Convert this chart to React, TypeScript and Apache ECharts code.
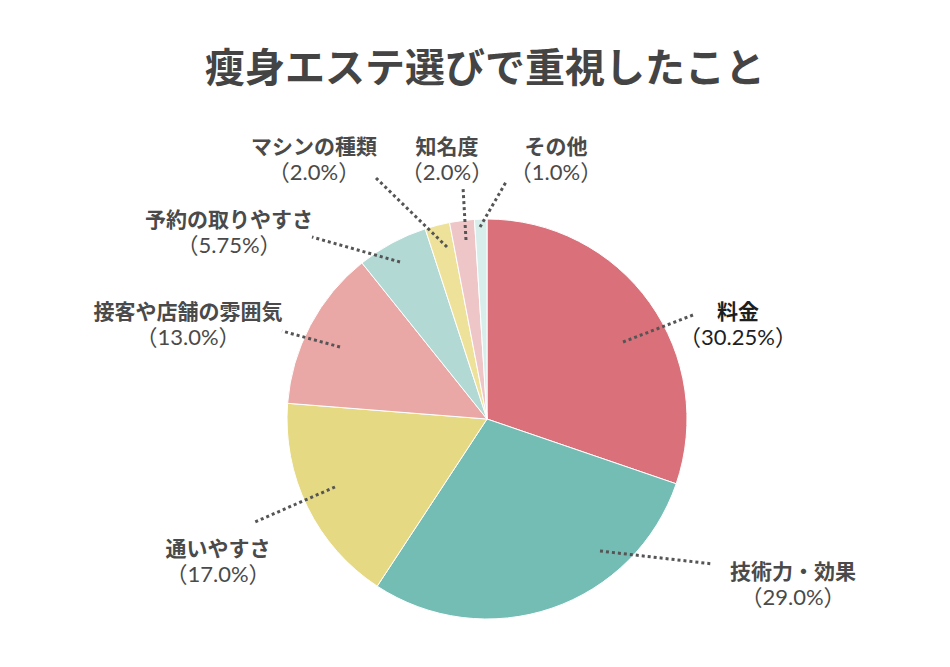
import React, { useEffect, useRef } from "react";
import * as echarts from "echarts";

const titleText = "瘦身エステ選びで重視したこと";
const categories = [
  "料金",
  "技術力・効果",
  "通いやすさ",
  "接客や店舗の雰囲気",
  "予約の取りやすさ",
  "マシンの種類",
  "知名度",
  "その他",
];
const values = [30.25, 29.0, 17.0, 13.0, 5.75, 2.0, 2.0, 1.0];
const percentLabels = ["30.25%", "29.0%", "17.0%", "13.0%", "5.75%", "2.0%", "2.0%", "1.0%"];
const colors = ["#DA717A", "#74BDB5", "#E6D983", "#E9A7A6", "#B3D9D5", "#EEE29A", "#EFC6C8", "#D8EEEB"];

// label layout: [labelCenterX, labelCenterY, lineStartX, lineStartY, lineEndX, lineEndY]
const labelLayouts = [
  [738, 321, 623, 342, 693, 315],
  [793, 581, 600, 551, 713, 564],
  [218, 558, 335, 487, 255, 522],
  [188, 321, 340, 347, 282, 331],
  [229, 229, 400, 262, 312, 237],
  [314, 156, 447, 247, 375, 177],
  [447, 156, 466, 240, 463, 187],
  [556, 156, 480, 227, 506, 182],
];

export default function App() {
  const ref = useRef<HTMLDivElement>(null);
  useEffect(() => {
    if (!ref.current) return;
    const chart = echarts.init(ref.current, null, { renderer: "svg" });
    const sliceData = categories.map((name, i) => ({
      name,
      value: values[i],
      itemStyle: { color: colors[i] },
    }));
    const labelData = categories.map((name, i) => ({
      name,
      value: values[i],
      itemStyle: { color: "rgba(0,0,0,0)", borderWidth: 0 },
      label: {
        formatter: `{n|${name}}\n{p|（${percentLabels[i]}）}`,
        rich: {
          n: {
            fontSize: 21,
            fontWeight: "bold",
            color: i === 0 ? "#1e1e1e" : "#4a4a4a",
            fontFamily: "'Noto Sans CJK JP'",
            lineHeight: 26,
            align: "center",
          },
          p: {
            fontSize: 22,
            color: i === 0 ? "#1e1e1e" : "#4a4a4a",
            fontFamily: "Lato, 'Noto Sans CJK JP'",
            lineHeight: 26,
            align: "center",
          },
        },
      },
    }));
    chart.setOption({
      animation: false,
      backgroundColor: "#ffffff",
      title: {
        text: titleText,
        left: 480,
        top: 40,
        textAlign: "center",
        textStyle: {
          fontSize: 40,
          fontWeight: "bold",
          color: "#444444",
          fontFamily: "'Noto Sans CJK JP'",
        },
      },
      series: [
        {
          type: "pie",
          z: 2,
          center: [487, 419],
          radius: 200,
          startAngle: 90,
          clockwise: true,
          silent: true,
          itemStyle: { borderColor: "#ffffff", borderWidth: 1 },
          label: { show: false },
          labelLine: { show: false },
          data: sliceData,
        },
        {
          type: "pie",
          z: 10,
          center: [487, 419],
          radius: 200,
          startAngle: 90,
          clockwise: true,
          silent: true,
          avoidLabelOverlap: false,
          label: { show: true, position: "outside", align: "center" },
          labelLine: {
            show: true,
            lineStyle: { color: "#555555", width: 3, type: [3, 3] },
          },
          labelLayout: (params: any) => {
            const l = labelLayouts[params.dataIndex];
            const w = params.labelRect.width;
            const h = params.labelRect.height;
            return {
              x: l[0] - w / 2,
              y: l[1] - h / 2,
              align: "left",
              verticalAlign: "top",
              labelLinePoints: [
                [l[2], l[3]],
                [(l[2] + l[4]) / 2, (l[3] + l[5]) / 2],
                [l[4], l[5]],
              ],
            };
          },
          data: labelData,
        },
      ],
    });
    return () => chart.dispose();
  }, []);
  return (
    <div
      ref={ref}
      style={{ position: "fixed", left: 0, top: 0, width: 950, height: 667 }}
    />
  );
}
